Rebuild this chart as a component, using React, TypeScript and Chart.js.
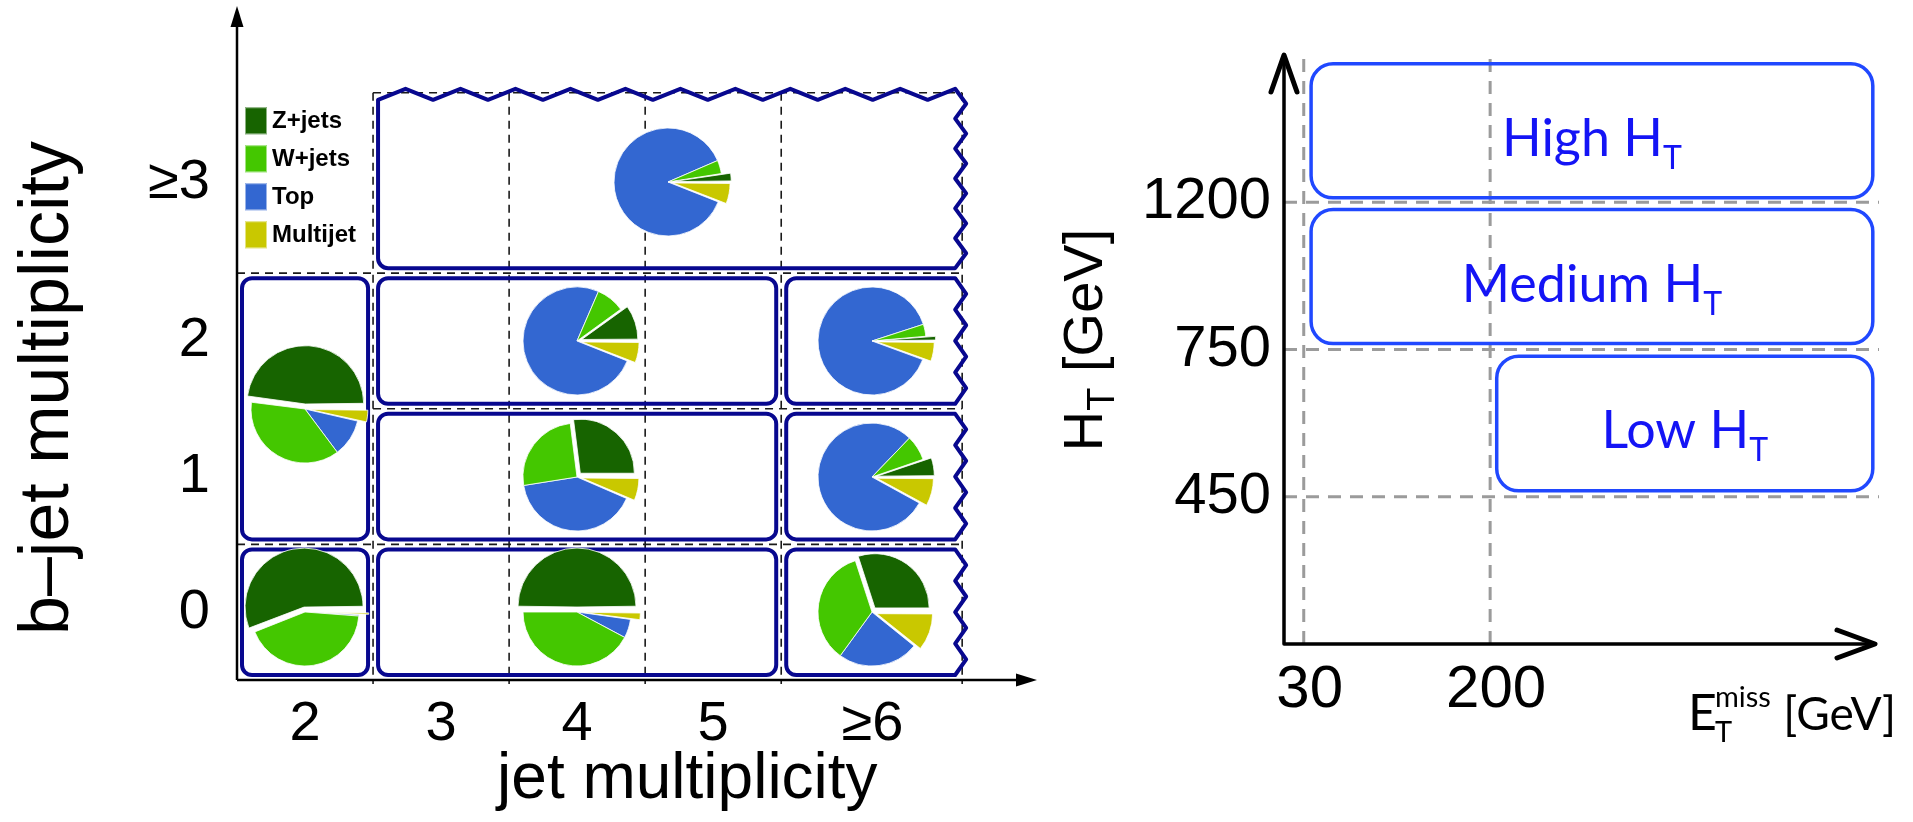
import React, { useEffect, useRef } from 'react';
import { Chart, registerables } from 'chart.js';

Chart.register(...registerables);

const W = 1913;
const H = 822;

// ---------------- Left panel: jet / b-jet multiplicity plane ----------------
const jetCategories = ['2', '3', '4', '5', '≥6'];
const jetCategoryCenters = [2, 3, 4, 5, 6.17];
const jetBinEdges = [1.5, 2.5, 3.5, 4.5, 5.5, 6.83];
const bjetCategories = ['0', '1', '2', '≥3'];
const bjetCategoryCenters = [0, 1, 2, 3.17];
const bjetBinEdges = [-0.5, 0.5, 1.5, 2.5, 3.83];
// first jet edge at which each horizontal cell boundary starts (b edges 0.5, 1.5, 2.5, 3.83)
const bjetEdgeStart = [1.5, 2.5, 1.5, 2.5];

const processNames = ['Z+jets', 'W+jets', 'Top', 'Multijet'];
const processColors = ['#176400', '#44c700', '#3367d1', '#c9c800'];
const processExplodePx = [5, 0, 0, 5];

// signal / control regions (rounded boxes)
const regionJetLo = [2.5, 1.5, 1.5, 2.5, 2.5, 2.5, 5.5, 5.5, 5.5];
const regionJetHi = [6.83, 2.5, 2.5, 5.5, 5.5, 5.5, 6.83, 6.83, 6.83];
const regionBLo = [2.5, 0.5, -0.5, 1.5, 0.5, -0.5, 1.5, 0.5, -0.5];
const regionBHi = [3.83, 2.5, 0.5, 2.5, 1.5, 0.5, 2.5, 1.5, 0.5];

// pie charts: position and background composition (%)
const pieJet = [4.67, 2, 2, 4, 4, 4, 6.17, 6.17, 6.17];
const pieB = [3.17, 1.5, 0, 2, 1, 0, 2, 1, 0];
const zjetsFrac = [2.5, 48, 56, 10, 27, 50, 1.4, 5.3, 30];
const wjetsFrac = [4, 37.2, 42.8, 8.5, 25.5, 42.2, 3.6, 7.5, 35];
const topFrac = [87.5, 11.2, 0.4, 75.5, 41, 5.6, 89.4, 79.2, 24.2];
const multijetFrac = [6, 3.6, 0.8, 6, 6.5, 2.2, 5.6, 8, 10.8];

// ---------------- Right panel: HT vs MET regions ----------------
const metTickValues = [30, 200];
const metTickLabels = ['30', '200'];
const htTickLevels = [1, 2, 3];
const htTickLabels = ['450', '750', '1200'];
const htRegionNames = ['High', 'Medium', 'Low'];
const htRegionMetLo = [36.7, 36.7, 206];
const htRegionMetHi = [549, 549, 549];
const htRegionLevelLo = [3.03, 2.04, 1.04];
const htRegionLevelHi = [3.94, 2.95, 1.955];

const PIE_BOX = 150;
const PIE_RADIUS = 54;

function regionPath(ctx: any, l: number, t: number, r: number, b: number, rad: number, zigTop: boolean, zigRight: boolean) {
  const amp = 11;
  ctx.beginPath();
  if (zigTop) ctx.moveTo(l, t + amp);
  else {
    ctx.moveTo(l, t + rad);
    ctx.arcTo(l, t, l + rad, t, rad);
  }
  const topEnd = zigRight ? r - amp : r - rad;
  if (zigTop) {
    let n = Math.max(1, Math.round((topEnd - l) / 29));
    if (n % 2 === 0) n += 1;
    for (let k = 1; k <= n; k++) {
      const xk = l + ((topEnd - l) * k) / n;
      ctx.lineTo(xk, (n - k) % 2 === 0 ? t : t + amp);
    }
  } else ctx.lineTo(topEnd, t);
  if (zigRight) {
    let n = Math.max(2, Math.round((b - t) / 15));
    if (n % 2 === 1) n += 1;
    for (let k = 1; k <= n; k++) {
      const yk = t + ((b - t) * k) / n;
      ctx.lineTo(k % 2 === 1 ? r : r - amp, yk);
    }
  } else {
    ctx.arcTo(r, t, r, t + rad, rad);
    ctx.arcTo(r, b, r - rad, b, rad);
  }
  ctx.lineTo(l + rad, b);
  ctx.arcTo(l, b, l, b - rad, rad);
  ctx.closePath();
}

function drawParts(ctx: any, parts: { text: string; font: string; dy: number }[], x: number, y: number, align: string) {
  const widths = parts.map((p) => {
    ctx.font = p.font;
    return ctx.measureText(p.text).width;
  });
  const total = widths.reduce((a, b) => a + b, 0);
  let cx = align === 'center' ? x - total / 2 : align === 'right' ? x - total : x;
  ctx.textAlign = 'left';
  ctx.textBaseline = 'alphabetic';
  parts.forEach((p, i) => {
    ctx.font = p.font;
    ctx.fillText(p.text, cx, y + p.dy);
    cx += widths[i];
  });
}

const leftDecor = {
  id: 'leftDecor',
  afterDraw(chart: any) {
    const ctx = chart.ctx;
    const xs = chart.scales.x;
    const ys = chart.scales.y;
    const X = (v: number) => xs.getPixelForValue(v);
    const Y = (v: number) => ys.getPixelForValue(v);
    const jMin = jetBinEdges[0];
    const jMax = jetBinEdges[jetBinEdges.length - 1];
    const bMin = bjetBinEdges[0];
    const bMax = bjetBinEdges[bjetBinEdges.length - 1];
    const x0 = X(jMin);
    const y0 = Y(bMin);
    ctx.save();

    // dashed cell grid
    ctx.strokeStyle = '#1a1a1a';
    ctx.lineWidth = 1.6;
    ctx.setLineDash([8, 6]);
    ctx.beginPath();
    for (let i = 1; i < jetBinEdges.length; i++) {
      const x = X(jetBinEdges[i]);
      ctx.moveTo(x, Y(bMax));
      ctx.lineTo(x, y0 + 4);
    }
    for (let i = 1; i < bjetBinEdges.length; i++) {
      const y = Y(bjetBinEdges[i]);
      ctx.moveTo(X(bjetEdgeStart[i - 1]), y);
      ctx.lineTo(X(jMax), y);
    }
    ctx.stroke();

    // region boxes
    ctx.setLineDash([]);
    ctx.strokeStyle = '#08088f';
    ctx.lineWidth = 4;
    ctx.lineJoin = 'round';
    for (let i = 0; i < regionJetLo.length; i++) {
      const zigR = regionJetHi[i] >= jMax;
      const zigT = regionBHi[i] >= bMax;
      const l = X(regionJetLo[i]) + 5;
      const r = zigR ? X(regionJetHi[i]) + 4 : X(regionJetHi[i]) - 5;
      const t = zigT ? Y(regionBHi[i]) - 4 : Y(regionBHi[i]) + 5;
      const b = Y(regionBLo[i]) - 5;
      regionPath(ctx, l, t, r, b, 10, zigT, zigR);
      ctx.stroke();
    }

    // axes with arrows
    const xTip = X(xs.max);
    const yTip = Y(ys.max);
    ctx.strokeStyle = '#000';
    ctx.fillStyle = '#000';
    ctx.lineWidth = 2.5;
    ctx.beginPath();
    ctx.moveTo(x0, y0);
    ctx.lineTo(xTip - 15, y0);
    ctx.moveTo(x0, y0);
    ctx.lineTo(x0, yTip + 15);
    ctx.stroke();
    ctx.beginPath();
    ctx.moveTo(xTip, y0);
    ctx.lineTo(xTip - 21, y0 - 6.5);
    ctx.lineTo(xTip - 21, y0 + 6.5);
    ctx.closePath();
    ctx.fill();
    ctx.beginPath();
    ctx.moveTo(x0, yTip);
    ctx.lineTo(x0 - 6.5, yTip + 21);
    ctx.lineTo(x0 + 6.5, yTip + 21);
    ctx.closePath();
    ctx.fill();

    // tick labels
    ctx.font = '56px "Liberation Sans", Arial, sans-serif';
    ctx.textAlign = 'center';
    ctx.textBaseline = 'alphabetic';
    jetCategories.forEach((lab, i) => ctx.fillText(lab, X(jetCategoryCenters[i]), y0 + 60));
    ctx.textAlign = 'right';
    ctx.textBaseline = 'middle';
    bjetCategories.forEach((lab, i) => ctx.fillText(lab, x0 - 27, Y(bjetCategoryCenters[i])));

    // axis titles
    ctx.font = '64px "Liberation Sans", Arial, sans-serif';
    ctx.textAlign = 'center';
    ctx.textBaseline = 'alphabetic';
    ctx.fillText('jet multiplicity', X(4.81), 798);
    ctx.save();
    ctx.translate(68, 388);
    ctx.rotate(-Math.PI / 2);
    ctx.font = '70px "Liberation Sans", Arial, sans-serif';
    ctx.fillText('b–jet multiplicity', 0, 0);
    ctx.restore();

    // legend
    const lx = x0 + 8;
    const ly = Y(bMax) + 28;
    processNames.forEach((name, i) => {
      const cy = ly + i * 38;
      ctx.fillStyle = processColors[i];
      ctx.fillRect(lx, cy - 13.5, 22, 27);
      ctx.strokeStyle = 'rgba(255,255,255,0.5)';
      ctx.lineWidth = 1;
      ctx.strokeRect(lx + 0.5, cy - 13, 21, 26);
      ctx.fillStyle = '#000';
      ctx.font = 'bold 24px "Liberation Sans", Arial, sans-serif';
      ctx.textAlign = 'left';
      ctx.textBaseline = 'middle';
      ctx.fillText(name, lx + 27, cy + 1);
    });
    ctx.restore();
  },
};

const rightDecor = {
  id: 'rightDecor',
  afterDraw(chart: any) {
    const ctx = chart.ctx;
    const xs = chart.scales.x;
    const ys = chart.scales.y;
    const X = (v: number) => xs.getPixelForValue(v);
    const Y = (v: number) => ys.getPixelForValue(v);
    const x0 = X(xs.min);
    const y0 = Y(ys.min);
    const xTip = X(xs.max);
    const yTip = Y(ys.max);
    ctx.save();

    // dashed guide lines
    ctx.strokeStyle = '#9b9b9b';
    ctx.lineWidth = 3;
    ctx.setLineDash([13, 9]);
    ctx.beginPath();
    metTickValues.forEach((v) => {
      ctx.moveTo(X(v), y0);
      ctx.lineTo(X(v), yTip - 2);
    });
    htTickLevels.forEach((lv) => {
      ctx.moveTo(x0, Y(lv));
      ctx.lineTo(xTip + 4, Y(lv));
    });
    ctx.stroke();

    // region boxes
    ctx.setLineDash([]);
    ctx.strokeStyle = '#2048ff';
    ctx.lineWidth = 3.5;
    for (let i = 0; i < htRegionNames.length; i++) {
      const l = X(htRegionMetLo[i]);
      const r = X(htRegionMetHi[i]);
      const t = Y(htRegionLevelHi[i]);
      const b = Y(htRegionLevelLo[i]);
      ctx.beginPath();
      ctx.roundRect(l, t, r - l, b - t, 22);
      ctx.stroke();
      ctx.fillStyle = '#1414f5';
      drawParts(
        ctx,
        [
          { text: htRegionNames[i] + ' H', font: '52px Lato, "Open Sans", sans-serif', dy: 0 },
          { text: 'T', font: '32px Lato, "Open Sans", sans-serif', dy: 13 },
        ],
        (l + r) / 2,
        (t + b) / 2 + 25,
        'center'
      );
    }

    // axes with open arrow heads
    ctx.strokeStyle = '#000';
    ctx.lineWidth = 3.5;
    ctx.lineCap = 'round';
    ctx.lineJoin = 'round';
    ctx.beginPath();
    ctx.moveTo(x0, y0);
    ctx.lineTo(xTip, y0);
    ctx.moveTo(x0, y0);
    ctx.lineTo(x0, yTip);
    ctx.stroke();
    ctx.lineWidth = 5;
    ctx.beginPath();
    ctx.moveTo(xTip - 38, y0 - 14);
    ctx.lineTo(xTip, y0);
    ctx.lineTo(xTip - 38, y0 + 14);
    ctx.moveTo(x0 - 13, yTip + 37);
    ctx.lineTo(x0, yTip);
    ctx.lineTo(x0 + 13, yTip + 37);
    ctx.stroke();

    // tick labels
    ctx.fillStyle = '#000';
    ctx.font = '58px "Liberation Sans", Arial, sans-serif';
    ctx.textAlign = 'right';
    ctx.textBaseline = 'middle';
    htTickLabels.forEach((lab, i) => ctx.fillText(lab, x0 - 13, Y(htTickLevels[i])));
    ctx.font = '60px "Liberation Sans", Arial, sans-serif';
    ctx.textAlign = 'center';
    ctx.textBaseline = 'alphabetic';
    metTickLabels.forEach((lab, i) => ctx.fillText(lab, X(metTickValues[i]) + 6, y0 + 63));

    // y title: H_T [GeV]
    ctx.save();
    ctx.translate(1102, 340);
    ctx.rotate(-Math.PI / 2);
    drawParts(
      ctx,
      [
        { text: 'H', font: '56px "Liberation Sans", Arial, sans-serif', dy: 0 },
        { text: 'T', font: '38px "Liberation Sans", Arial, sans-serif', dy: 12 },
        { text: ' [GeV]', font: '56px "Liberation Sans", Arial, sans-serif', dy: 0 },
      ],
      0,
      0,
      'center'
    );
    ctx.restore();

    // x title: E_T^miss [GeV]
    const ex = 1688;
    const ey = 730;
    ctx.textAlign = 'left';
    ctx.font = '50px Lato, "Open Sans", sans-serif';
    ctx.fillText('E', ex, ey);
    const ew = ctx.measureText('E').width;
    ctx.font = '29px Lato, "Open Sans", sans-serif';
    ctx.fillText('miss', ex + ew - 2, ey - 23);
    ctx.fillText('T', ex + ew - 2, ey + 12);
    ctx.font = '46px Lato, "Open Sans", sans-serif';
    ctx.textAlign = 'right';
    ctx.fillText('[GeV]', 1896, ey);
    ctx.restore();
  },
};

export default function App() {
  const leftRef = useRef<HTMLCanvasElement | null>(null);
  const rightRef = useRef<HTMLCanvasElement | null>(null);
  const pieRefs = useRef<(HTMLCanvasElement | null)[]>([]);

  useEffect(() => {
    document.body.style.margin = '0';
    document.documentElement.style.overflow = 'hidden';
    const charts: any[] = [];

    const left = new Chart(leftRef.current as HTMLCanvasElement, {
      type: 'scatter',
      data: { datasets: [] },
      options: {
        responsive: false,
        animation: false,
        events: [],
        layout: { padding: { left: 237, top: 6, right: W - 1037, bottom: H - 680 } },
        scales: {
          x: { type: 'linear', min: 1.5, max: 7.38, display: false },
          y: { type: 'linear', min: -0.5, max: 4.47, display: false },
        },
        plugins: { legend: { display: false }, tooltip: { enabled: false } },
      },
      plugins: [leftDecor],
    } as any);
    charts.push(left);

    const right = new Chart(rightRef.current as HTMLCanvasElement, {
      type: 'scatter',
      data: { datasets: [] },
      options: {
        responsive: false,
        animation: false,
        events: [],
        layout: { padding: { left: 1284, top: 55, right: W - 1875, bottom: H - 644 } },
        scales: {
          x: { type: 'linear', min: 12, max: 551, display: false },
          y: { type: 'linear', min: 0, max: 4, display: false },
        },
        plugins: { legend: { display: false }, tooltip: { enabled: false } },
      },
      plugins: [rightDecor],
    } as any);
    charts.push(right);

    for (let i = 0; i < pieJet.length; i++) {
      const cv = pieRefs.current[i];
      if (!cv) continue;
      const cx = left.scales.x.getPixelForValue(pieJet[i]);
      const cy = left.scales.y.getPixelForValue(pieB[i]);
      cv.style.left = `${cx - PIE_BOX / 2}px`;
      cv.style.top = `${cy - PIE_BOX / 2}px`;
      // clockwise from 3 o'clock: Multijet, Top, W+jets, Z+jets  (== counter-clockwise Z, W, Top, Multijet)
      const order = [3, 2, 1, 0];
      const fracs = [zjetsFrac[i], wjetsFrac[i], topFrac[i], multijetFrac[i]];
      const pie = new Chart(cv, {
        type: 'pie',
        data: {
          labels: order.map((k) => processNames[k]),
          datasets: [
            {
              data: order.map((k) => fracs[k]),
              backgroundColor: order.map((k) => processColors[k]),
              borderColor: 'rgba(255,255,255,0.8)',
              borderWidth: 1,
              offset: order.map((k) => processExplodePx[k] * 4),
            },
          ],
        },
        options: {
          responsive: false,
          animation: false,
          events: [],
          rotation: 90,
          radius: PIE_RADIUS,
          layout: { padding: 0 },
          plugins: { legend: { display: false }, tooltip: { enabled: false } },
        },
      } as any);
      charts.push(pie);
    }

    return () => charts.forEach((c) => c.destroy());
  }, []);

  return (
    <div style={{ position: 'absolute', left: 0, top: 0, width: W, height: H, background: '#fff', overflow: 'hidden' }}>
      <canvas ref={leftRef} width={W} height={H} style={{ position: 'absolute', left: 0, top: 0 }} />
      <canvas ref={rightRef} width={W} height={H} style={{ position: 'absolute', left: 0, top: 0 }} />
      {pieJet.map((_, i) => (
        <canvas
          key={i}
          ref={(el) => {
            pieRefs.current[i] = el;
          }}
          width={PIE_BOX}
          height={PIE_BOX}
          style={{ position: 'absolute', left: 0, top: 0, width: PIE_BOX, height: PIE_BOX }}
        />
      ))}
    </div>
  );
}
